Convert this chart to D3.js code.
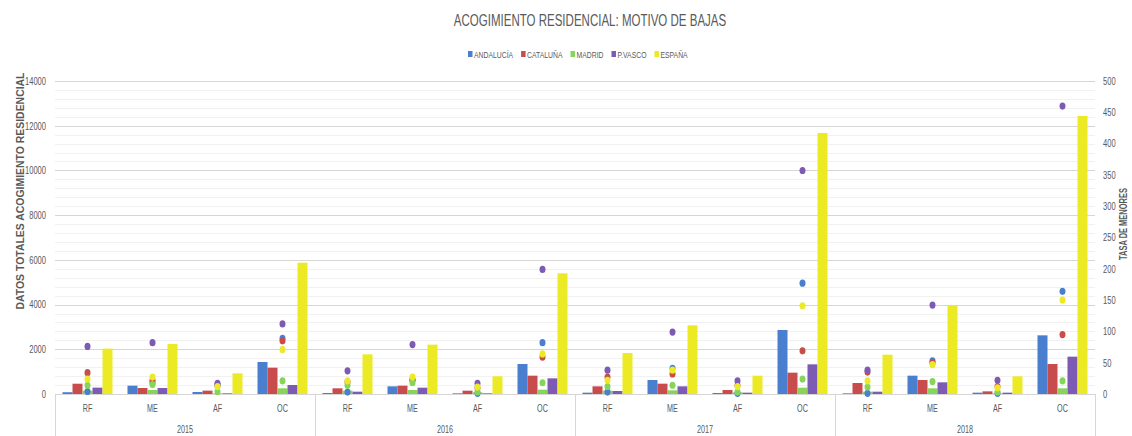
<!DOCTYPE html>
<html><head><meta charset="utf-8">
<script src="https://cdn.jsdelivr.net/npm/d3@7"></script>
<style>
html,body{margin:0;padding:0;background:#fff;}
svg{display:block;}
text{font-family:"Liberation Sans","Arimo",sans-serif;fill:#595959;}
</style></head><body>
<svg id="chart" width="1132" height="436"></svg>
<script>
const years = ["2015","2016","2017","2018"];
const cats = ["RF","ME","AF","OC"];
const seriesNames = ["ANDALUCÍA","CATALUÑA","MADRID","P.VASCO","ESPAÑA"];
const colors = ["#4a7fd0","#c94c4c","#86d45a","#7d5bb5","#ece925"];

// Datos totales (bars, left axis), order: year-major, RF ME AF OC
const andalucia = [80,373,90,1431, 45,343,30,1342, 60,626,45,2863, 30,820,60,2624];
const cataluna  = [460,268,150,1178, 254,373,149,820, 343,462,179,954, 492,626,119,1342];
const madrid    = [150,179,30,254, 149,179,75,194, 149,164,75,283, 104,254,30,254];
const pvasco    = [285,268,30,403, 104,283,30,701, 134,343,60,1327, 104,522,60,1670];
const espana    = [2030,2237,924,5874, 1774,2207,790,5398, 1834,3071,820,11675, 1759,3966,790,12435];

// Tasa de menores (dots, right axis)
const tasaAndalucia = [4,18,15,89, 3,22,1,82, 3,41,1,177, 1,53,1,164];
const tasaCataluna  = [34,22,13,85, 19,23,10,59, 27,32,14,69, 35,50,12,95];
const tasaMadrid    = [14,15,4,21, 14,18,3,18, 12,14,3,24, 11,20,3,21];
const tasaPvasco    = [76,82,17,112, 37,79,17,199, 38,99,21,357, 38,142,22,460];
const tasaEspana    = [24,27,12,71, 21,27,11,64, 22,38,12,141, 21,47,10,150];

const leftTicks = [0,2000,4000,6000,8000,10000,12000,14000];
const rightTicks = [0,50,100,150,200,250,300,350,400,450,500];

const barSeries = [andalucia,cataluna,madrid,pvasco,espana];
const dotSeries = [tasaAndalucia,tasaCataluna,tasaMadrid,tasaPvasco,tasaEspana];

const K = 0.72; // horizontal condensing of text (narrow font look)
const svg = d3.select("#chart");
const L = 55, R = 1095, T = 81, B = 394;

function label(x, y, txt, size, anchor, extra) {
  const g = svg.append("g").attr("transform", `translate(${x},${y})`);
  const t = g.append("text").attr("transform", `scale(${K},1)`)
    .attr("text-anchor", anchor || "start").attr("font-size", size).text(txt);
  return t;
}

const slots = [];
years.forEach(y => cats.forEach(c => slots.push(y + "|" + c)));

const x = d3.scaleBand().domain(slots).range([L, R]).padding(0);
const xi = d3.scaleBand().domain(d3.range(5)).range([0, x.bandwidth()]).paddingInner(0).paddingOuter(0.75);
const yL = d3.scaleLinear().domain([0, 14000]).range([B, T]);
const yR = d3.scaleLinear().domain([0, 500]).range([B, T]);

// minor gridlines
svg.append("g").selectAll("line").data(d3.range(0, 14001, 400).filter(v => v % 2000 !== 0))
  .join("line").attr("x1", L).attr("x2", R)
  .attr("y1", d => Math.round(yL(d)) + 0.5).attr("y2", d => Math.round(yL(d)) + 0.5)
  .attr("stroke", "#f1f1f1").attr("stroke-width", 1);
// major gridlines
svg.append("g").selectAll("line").data(leftTicks.filter(v => v > 0))
  .join("line").attr("x1", L).attr("x2", R)
  .attr("y1", d => Math.round(yL(d)) + 0.5).attr("y2", d => Math.round(yL(d)) + 0.5)
  .attr("stroke", "#d6d6d6").attr("stroke-width", 1);

// left axis
const gl = svg.append("g").attr("transform", `translate(${L - 9},0)`)
  .call(d3.axisLeft(yL).tickValues(leftTicks).tickSize(0).tickPadding(0).tickFormat(d3.format("d")));
gl.select(".domain").remove();
gl.selectAll("text").attr("font-size", 10.5).attr("fill", "#595959").attr("transform", `scale(${K},1)`)
  .style("font-family", '"Liberation Sans",sans-serif');

// right axis
const gr = svg.append("g").attr("transform", `translate(${R + 8},0)`)
  .call(d3.axisRight(yR).tickValues(rightTicks).tickSize(0).tickPadding(0));
gr.select(".domain").remove();
gr.selectAll("text").attr("font-size", 10.5).attr("fill", "#595959").attr("transform", `scale(${K},1)`)
  .style("font-family", '"Liberation Sans",sans-serif');

// bars
barSeries.forEach((vals, si) => {
  svg.append("g").selectAll("rect").data(vals).join("rect")
    .attr("x", (d, i) => x(slots[i]) + xi(si))
    .attr("width", xi.bandwidth())
    .attr("y", d => yL(d))
    .attr("height", d => B - yL(d))
    .attr("fill", colors[si]);
});

// baseline
svg.append("line").attr("x1", L).attr("x2", R).attr("y1", B + 0.5).attr("y2", B + 0.5)
  .attr("stroke", "#d6d6d6");

// dots
dotSeries.forEach((vals, si) => {
  svg.append("g").selectAll("ellipse").data(vals).join("ellipse")
    .attr("cx", (d, i) => x(slots[i]) + x.bandwidth() / 2)
    .attr("cy", d => yR(d))
    .attr("rx", 3).attr("ry", 3.6)
    .attr("fill", colors[si]);
});

// category axis
slots.forEach(s => label(x(s) + x.bandwidth() / 2, 412, s.split("|")[1], 10, "middle"));
const yearW = x.bandwidth() * cats.length;
svg.append("g").selectAll("line").data(d3.range(years.length + 1)).join("line")
  .attr("x1", i => L + i * yearW + 0.5).attr("x2", i => L + i * yearW + 0.5)
  .attr("y1", B).attr("y2", 436).attr("stroke", "#d6d6d6");
years.forEach((yv, i) => label(L + (i + 0.5) * yearW, 433, yv, 10, "middle"));

// title
label(590, 26, "ACOGIMIENTO RESIDENCIAL: MOTIVO DE BAJAS", 16, "middle");

// legend
let lx = 468;
seriesNames.forEach((n, i) => {
  svg.append("rect").attr("x", lx).attr("y", 51).attr("width", 4.5).attr("height", 6).attr("fill", colors[i]);
  const t = label(lx + 6, 58, n, 9.5, "start");
  const w = t.node().getComputedTextLength() * K;
  lx += 6 + w + 8;
});

// axis titles
svg.append("text").attr("transform", "translate(24,191) rotate(-90)").attr("text-anchor", "middle")
  .attr("font-size", 11).attr("font-weight", "bold").attr("fill", "#808080")
  .attr("textLength", 237).attr("lengthAdjust", "spacingAndGlyphs")
  .text("DATOS TOTALES ACOGIMIENTO RESIDENCIAL");
svg.append("text").attr("transform", "translate(1127,224) rotate(-90)").attr("text-anchor", "middle")
  .attr("font-size", 10).attr("font-weight", "bold").attr("fill", "#808080")
  .attr("textLength", 72).attr("lengthAdjust", "spacingAndGlyphs")
  .text("TASA DE MENORES");
</script>
</body></html>
